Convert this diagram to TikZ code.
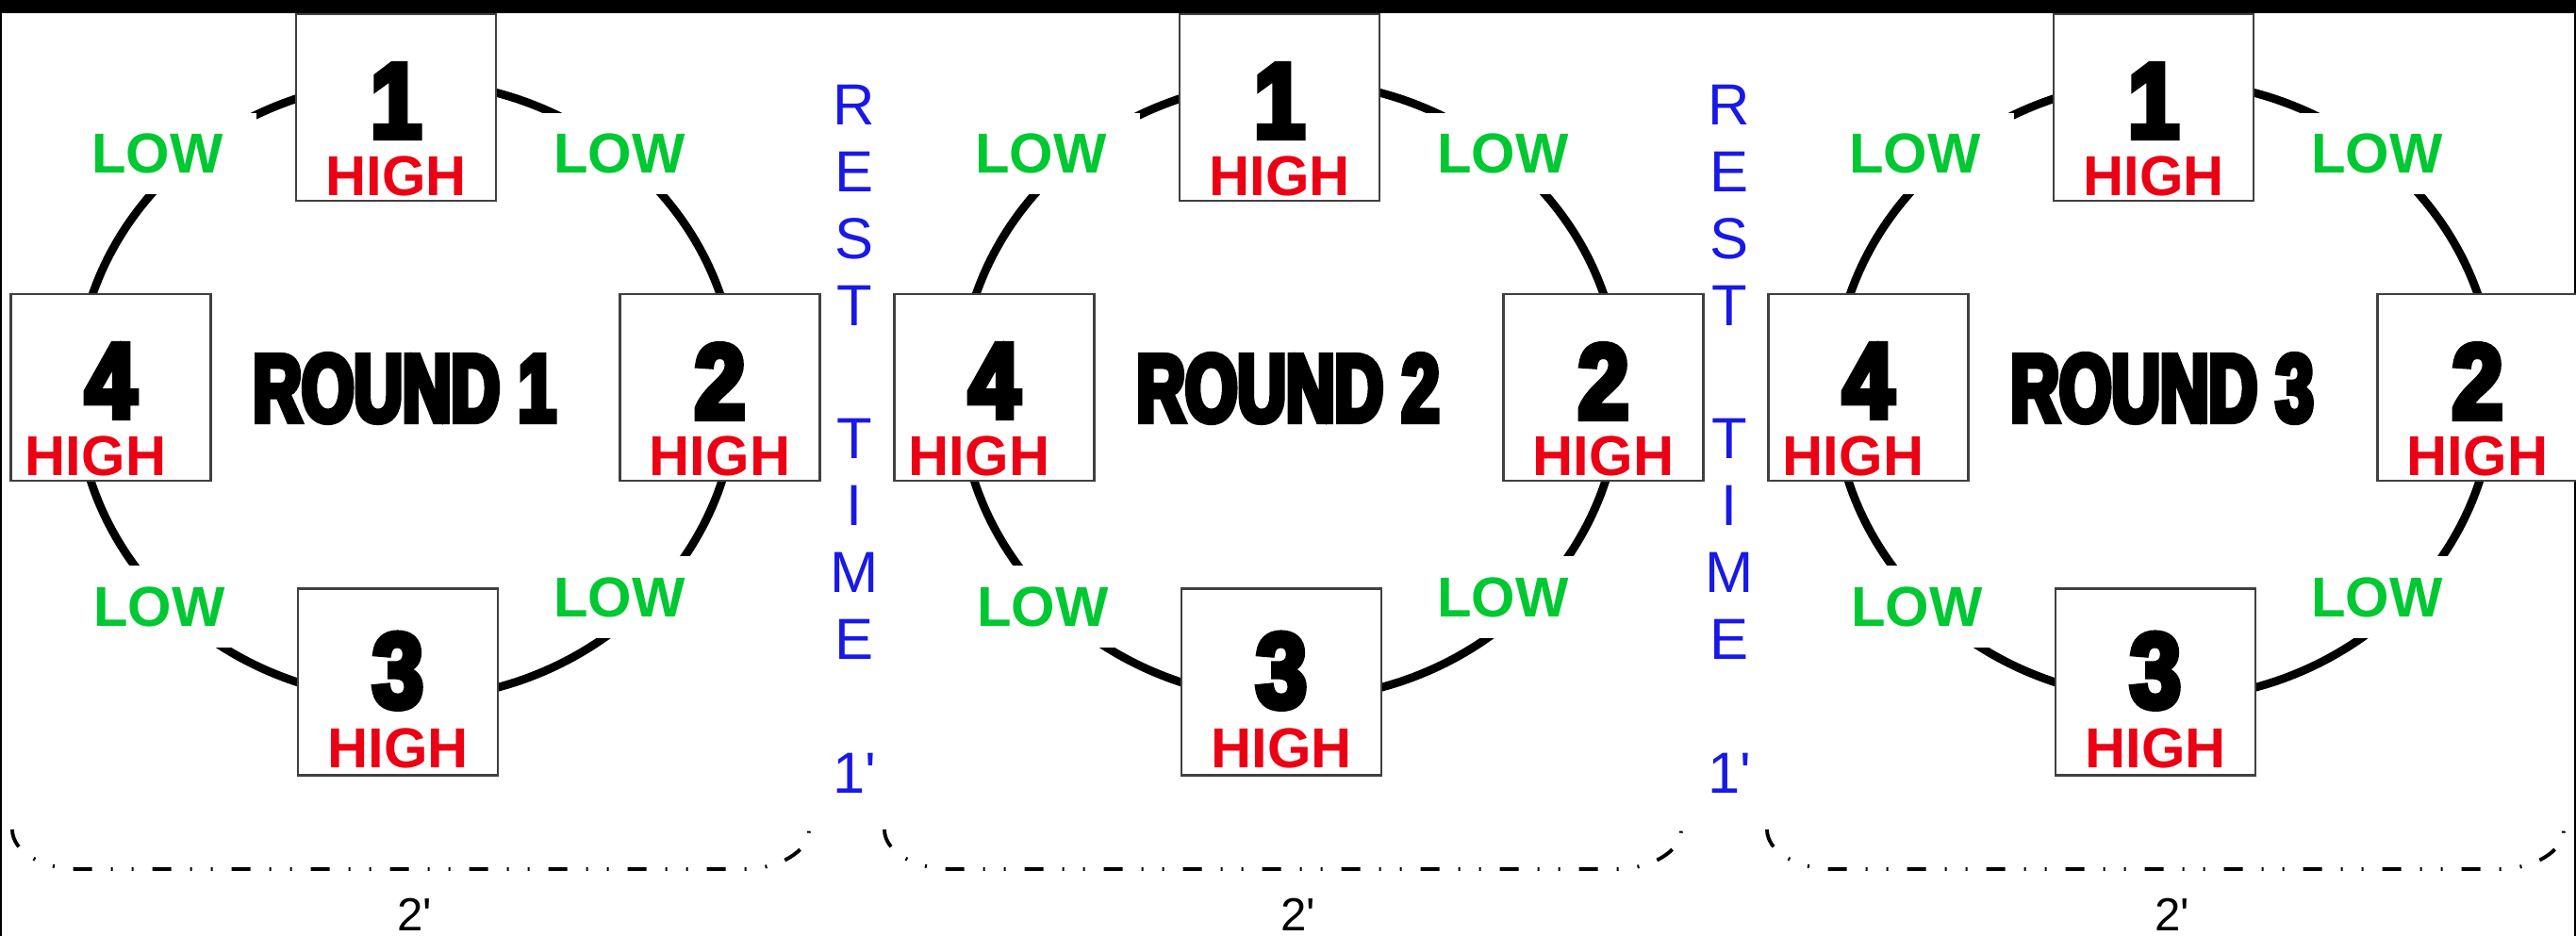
\documentclass[tikz,border=0pt]{standalone}
\usepackage{fontspec}
\setmainfont{Liberation Sans}
\newfontfamily\numfont{Liberation Sans}[FakeStretch=0.86,FakeBold=6]
\newfontfamily\roundfont{Liberation Sans}[FakeStretch=0.70,FakeBold=6]
\usepackage{tikz}
\usetikzlibrary{positioning}
\definecolor{lowgreen}{RGB}{0,200,50}
\definecolor{highred}{RGB}{235,0,20}
\definecolor{restblue}{RGB}{25,25,230}

\begin{document}
\begin{tikzpicture}[
    station/.style={draw=black!75, line width=0.8pt, fill=white,
      minimum width=2.12cm, minimum height=1.98cm, inner sep=0pt},
    num/.style={font=\numfont\bfseries\fontsize{32}{32}\selectfont, inner sep=0pt},
    high/.style={font=\bfseries\fontsize{17}{17}\selectfont, text=highred, inner sep=0pt},
    low/.style={font=\bfseries\fontsize{17}{17}\selectfont, text=lowgreen, fill=white,
      inner xsep=0.35cm, inner ysep=0.22cm},
    track/.style={line width=2.5pt},
    roundlabel/.style={font=\roundfont\bfseries\fontsize{29}{29}\selectfont, inner sep=0pt},
    rest/.style={font=\fontsize{17.5}{20.2}\selectfont, text=restblue, align=center,
      inner sep=0pt, anchor=north},
    span/.style={line width=1.1pt,
      dash pattern=on 0.2cm off 0.2cm on 0.02cm off 0.2cm on 0.02cm off 0.2cm},
    spanlabel/.style={font=\fontsize{14}{14}\selectfont, inner sep=0pt, anchor=base}
  ]
  \useasboundingbox (0,0) rectangle (27.32,-9.93);
  \clip (0,0) rectangle (27.32,-9.93);
  \fill[white] (0,0) rectangle (27.32,-9.93);
  \fill[black] (0,0) rectangle (27.32,-0.14);
  \fill[black] (0,0) rectangle (0.025,-9.93);
  \fill[black] (27.295,0) rectangle (27.32,-9.93);

  % three rounds of four stations
  \foreach \rnd/\dx/\sx in {1/0/0, 2/9.37/9.25, 3/18.64/18.61} {
    \begin{scope}[xshift=\dx cm]
      \coordinate (c\rnd) at (4.31,-4.14);
      \draw[track] (c\rnd) ellipse [x radius=3.5, y radius=3.28];
      \node[station] (b1-\rnd) at (4.20,-1.14) {};
      \node[station] (b2-\rnd) at (7.635,-4.11) {};
      \node[station] (b3-\rnd) at (4.22,-7.235) {};
      \node[station] (b4-\rnd) at (1.175,-4.11) {};
      \node[num, below=0.54cm of b1-\rnd.north] (n1-\rnd) {1};
      \node[num, below=0.54cm of b2-\rnd.north] (n2-\rnd) {2};
      \node[num, below=0.48cm of b3-\rnd.north] (n3-\rnd) {3};
      \node[num, below=0.54cm of b4-\rnd.north] (n4-\rnd) {4};
      \node[high, above=0.06cm of b1-\rnd.south] (h1-\rnd) {HIGH};
      \node[high, above=0.06cm of b2-\rnd.south] (h2-\rnd) {HIGH};
      \node[high, above=0.08cm of b3-\rnd.south] (h3-\rnd) {HIGH};
      \node[high, above=0.06cm of b4-\rnd.south, xshift=-0.16cm] (h4-\rnd) {HIGH};
      \node[low] (l12-\rnd) at (6.57,-1.63) {LOW};
      \node[low] (l23-\rnd) at (6.57,-6.335) {LOW};
      \node[low] (l34-\rnd) at (1.69,-6.435) {LOW};
      \node[low] (l41-\rnd) at (1.67,-1.63) {LOW};
      \node[roundlabel] (r\rnd) at (4.29,-4.12) {ROUND \rnd};
      \node[spanlabel] (s\rnd) at (4.40,-9.87) {2\textquotesingle};
    \end{scope}
    \begin{scope}[xshift=\sx cm]
      \draw[span] (0.13,-8.80)
        arc[start angle=180, end angle=270, x radius=0.7, y radius=0.42]
        -- (7.88,-9.22)
        arc[start angle=270, end angle=360, x radius=0.7, y radius=0.42];
    \end{scope}
  }

  \node[rest] (rest1) at (9.06,-0.89) {R\\E\\S\\T\\~\\T\\I\\M\\E\\~\\1\textquotesingle};
  \node[rest] (rest2) at (18.34,-0.89) {R\\E\\S\\T\\~\\T\\I\\M\\E\\~\\1\textquotesingle};
\end{tikzpicture}
\end{document}
